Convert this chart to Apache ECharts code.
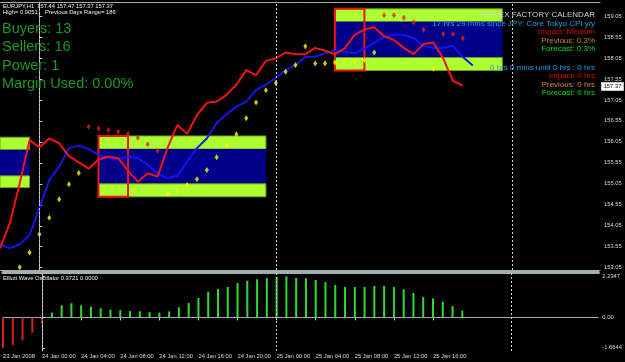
<!DOCTYPE html>
<html><head><meta charset="utf-8">
<script src="https://cdn.jsdelivr.net/npm/echarts@6/dist/echarts.min.js"></script>
<style>html,body{margin:0;padding:0;background:#000;}#c{width:625px;height:362px;}</style>
</head><body><div id="c"></div>
<script>
// ---------- data (hours counted from 24 Jan 00:00) ----------
const firstHour = -4;
const closeLine = [153.51,154.11,155.06,156.09,155.92,156.13,156.02,155.71,155.56,155.41,155.63,155.70,155.66,155.36,155.10,155.30,155.22,155.90,156.45,156.24,156.69,156.98,157.01,157.17,157.41,157.76,157.64,157.98,158.04,158.18,158.14,158.14,158.29,158.22,158.14,158.28,158.60,158.73,158.78,158.57,158.48,158.29,158.14,158.38,158.42,158.04,157.50,157.39];
const maLine = [153.61,153.51,153.61,153.83,154.47,155.14,155.46,155.90,155.96,155.88,155.74,155.66,155.63,155.70,155.66,155.50,155.30,155.18,155.24,155.58,155.90,156.13,156.50,156.71,156.89,157.01,157.29,157.41,157.57,157.76,157.88,158.07,158.08,158.16,158.22,158.20,158.16,158.28,158.41,158.54,158.61,158.60,158.52,158.34,158.29,158.29,158.34,158.07,157.87];
const sarBelow = [null,null,153.06,153.41,153.85,154.24,154.68,155.04,155.31,null,null,null,null,null,null,null,null,154.82,154.86,155.02,155.16,155.38,155.68,155.96,156.23,156.61,156.99,157.28,157.45,157.72,157.88,158.33,157.92,157.92,157.94,157.95,157.98,158.00,158.18,null,null,null,null,null,157.79,null,null,null];
const sarAbove = [null,null,null,null,null,null,null,null,null,156.41,156.37,156.33,156.29,156.24,156.15,155.99,155.84,null,null,null,null,null,null,null,null,null,null,null,null,null,null,null,null,null,null,null,null,null,null,159.07,159.07,159.01,158.90,158.72,null,158.62,158.62,158.52];
const ewo = [-1.6644,-1.51,-1.25,-0.84,-0.32,0.26,0.66,0.77,0.66,0.58,0.50,0.42,0.40,0.35,0.33,0.29,0.26,0.33,0.55,0.79,1.06,1.40,1.55,1.66,1.88,2.00,2.08,2.14,2.21,2.2347,2.15,2.14,2.04,1.93,1.77,1.66,1.66,1.66,1.71,1.71,1.66,1.53,1.33,1.11,1.04,0.86,0.62,0.3721];
// zone boxes
const boxStart = [-4, 6, 30];
const boxEnd = [-1, 23, 47];
const boxTop = [156.16, 156.19, 159.22];
const boxInnerTop = [155.86, 155.88, 158.91];
const boxInnerBottom = [155.24, 155.05, 158.06];
const boxBottom = [154.96, 154.74, 157.75];
const rectStart = [6, 30];
const rectEnd = [9, 33];
// ticks
const priceTicks = [153.05,153.55,154.05,154.55,155.05,155.55,156.05,156.55,157.05,157.55,158.05,158.55,159.05];
const ewoTicks = [-1.6644, 0, 2.2347];
const ewoTickLabels = ['-1.6644', '0.00', '2.2347'];
const timeTicks = [-4,0,4,8,12,16,20,24,28,32,36,40];
const timeLabels = ['23 Jan 2008','24 Jan 00:00','24 Jan 04:00','24 Jan 08:00','24 Jan 12:00','24 Jan 16:00','24 Jan 20:00','25 Jan 00:00','25 Jan 04:00','25 Jan 08:00','25 Jan 12:00','25 Jan 16:00'];
const dayStarts = [0, 24, 48];
const lastPrice = 157.37;

// ---------- build ----------
const FONT = 'Liberation Sans, Arial, sans-serif';
const AXC = '#9fb0b0';
const pairs = (arr) => arr.map((v, i) => [firstHour + i, v]).filter(p => p[1] !== null);

const lime = { color: '#adff2f', borderColor: '#6f9e1c', borderWidth: 1 };
const navy = { color: '#00008b' };
const boxAreas = [];
boxStart.forEach((s, i) => {
  boxAreas.push([{ xAxis: s, yAxis: boxTop[i], itemStyle: lime }, { xAxis: boxEnd[i], yAxis: boxInnerTop[i] }]);
  boxAreas.push([{ xAxis: s, yAxis: boxInnerTop[i], itemStyle: navy }, { xAxis: boxEnd[i], yAxis: boxInnerBottom[i] }]);
  boxAreas.push([{ xAxis: s, yAxis: boxInnerBottom[i], itemStyle: lime }, { xAxis: boxEnd[i], yAxis: boxBottom[i] }]);
});
const rectAreas = rectStart.map((s, i) => [
  { xAxis: s, yAxis: boxTop[i + 1], itemStyle: { color: 'rgba(0,0,0,0)', borderColor: '#ee1111', borderWidth: 2 } },
  { xAxis: rectEnd[i], yAxis: boxBottom[i + 1] }
]);
const sepLine = {
  silent: true, symbol: 'none', label: { show: false },
  lineStyle: { color: '#d0d0d0', type: [2, 2], width: 1 },
  data: dayStarts.map(d => ({ xAxis: d }))
};

const txt = (text, x, y, color, size, align) => ({
  type: 'text', z: 100,
  style: { text, x, y, fill: color, fontSize: size, fontFamily: FONT, align: align || 'left', verticalAlign: 'middle' }
});
const cal = [
  ['FOREX FACTORY CALENDAR', 14.3, '#d0d0d0'],
  ['17 hrs 29 mins since JPY: Core Tokyo CPI y/y', 23.3, '#1e9fe8'],
  ['Impact: Medium', 31.7, '#e00000'],
  ['Previous: 0.3%', 40.3, '#cd853f'],
  ['Forecast: 0.3%', 49, '#00e000'],
  ['0 hrs 0 mins until 0 hrs : 0 hrs', 67.3, '#1e9fe8'],
  ['Impact: 0 hrs', 76, '#e00000'],
  ['Previous: 0 hrs', 84.3, '#cd853f'],
  ['Forecast: 0 hrs', 93, '#00e000']
];
const stats = [['Buyers: 13', 28.8], ['Sellers: 16', 47.3], ['Power: 1', 65.5], ['Margin Used: 0.00%', 84]];

const graphics = [
  txt('EURJPY,H1', 3, 6, '#f0f0f0', 5.8),
  txt('157.44 157.47 157.37 157.37', 37.3, 6, '#f0f0f0', 5.8),
  txt('High= 0.9051', 3, 12.7, '#f0f0f0', 5.8),
  txt('Previous Days Range= 186', 45, 12.7, '#f0f0f0', 5.8),
  txt('Elliott Wave Oscillator 0.3721 0.0000', 3, 278.5, '#f0f0f0', 5.8)
];
stats.forEach(s => graphics.push(txt(s[0], 2, s[1], '#1a9a1a', 14.5)));
cal.forEach(c => graphics.push(txt(c[0], 595, c[1], c[2], 8, 'right')));

const xMin = -4, xMax = 56.92;
const option = {
  backgroundColor: '#000',
  animation: false,
  grid: [
    { left: 0, width: 600, top: 2, height: 268 },
    { left: 0, width: 600, top: 272, height: 79 }
  ],
  xAxis: [
    { gridIndex: 0, type: 'value', min: xMin, max: xMax, position: 'bottom', axisLine: { show: true, lineStyle: { color: AXC, width: 1 } }, axisTick: { show: false }, axisLabel: { show: false }, splitLine: { show: false } },
    { gridIndex: 1, type: 'value', min: xMin, max: xMax, position: 'bottom',
      axisLine: { show: true, lineStyle: { color: AXC, width: 1 } },
      axisTick: { show: true, customValues: timeTicks, length: 3, lineStyle: { color: '#c8c8c8' } },
      axisLabel: { show: true, customValues: timeTicks, align: 'left', margin: 2, fontSize: 5.8, fontFamily: FONT, color: '#d8d8d8',
        formatter: v => { const i = timeTicks.indexOf(v); return i >= 0 ? timeLabels[i] : ''; } },
      splitLine: { show: false } },
    { gridIndex: 0, type: 'value', min: xMin, max: xMax, position: 'top', axisLine: { show: true, lineStyle: { color: AXC, width: 1 } }, axisTick: { show: false }, axisLabel: { show: false }, splitLine: { show: false } },
    { gridIndex: 1, type: 'value', min: xMin, max: xMax, position: 'top', axisLine: { show: true, lineStyle: { color: AXC, width: 3 } }, axisTick: { show: false }, axisLabel: { show: false }, splitLine: { show: false } }
  ],
  yAxis: [
    { gridIndex: 0, type: 'value', position: 'right', min: 152.9952, max: 159.3837,
      axisLine: { show: true, lineStyle: { color: AXC } },
      axisTick: { show: true, customValues: priceTicks, length: 3, lineStyle: { color: '#c8c8c8' } },
      axisLabel: { show: true, customValues: priceTicks, margin: 4, fontSize: 5.8, fontFamily: FONT, color: '#d8d8d8', formatter: v => v.toFixed(2) },
      splitLine: { show: false } },
    { gridIndex: 1, type: 'value', position: 'right', min: -1.835, max: 2.4795,
      axisLine: { show: true, lineStyle: { color: AXC } },
      axisTick: { show: true, customValues: ewoTicks, length: 3, lineStyle: { color: '#c8c8c8' } },
      axisLabel: { show: true, customValues: ewoTicks, margin: 4, fontSize: 5.8, fontFamily: FONT, color: '#d8d8d8',
        formatter: v => { const i = ewoTicks.indexOf(v); return i >= 0 ? ewoTickLabels[i] : ''; } },
      splitLine: { show: false } }
  ],
  graphic: graphics,
  series: [
    { type: 'line', xAxisIndex: 0, yAxisIndex: 0, data: [], z: 1, silent: true,
      markArea: { silent: true, data: boxAreas }, markLine: sepLine },
    { type: 'line', name: 'ma', xAxisIndex: 0, yAxisIndex: 0, data: pairs(maLine), z: 3, symbol: 'none',
      lineStyle: { color: '#1414f0', width: 2 } },
    { type: 'line', name: 'close', xAxisIndex: 0, yAxisIndex: 0, data: pairs(closeLine), z: 3, symbol: 'none',
      lineStyle: { color: '#f01414', width: 2 } },
    { type: 'scatter', name: 'sarBelow', xAxisIndex: 0, yAxisIndex: 0, data: pairs(sarBelow), z: 4,
      symbol: 'diamond', symbolSize: [4, 6], itemStyle: { color: '#ffff00' } },
    { type: 'scatter', name: 'sarAbove', xAxisIndex: 0, yAxisIndex: 0, data: pairs(sarAbove), z: 4,
      symbol: 'diamond', symbolSize: [4, 6], itemStyle: { color: '#e81c1c' } },
    { type: 'line', xAxisIndex: 0, yAxisIndex: 0, data: [], z: 5, silent: true,
      markArea: { silent: true, data: rectAreas } },
    { type: 'bar', name: 'ewo', xAxisIndex: 1, yAxisIndex: 1, data: pairs(ewo), barWidth: 2, z: 3,
      itemStyle: { color: p => p.value[1] >= 0 ? '#30dc30' : '#d42020' },
      markLine: sepLine }
  ]
};
const chart = echarts.init(document.getElementById('c'), null, { renderer: 'canvas' });
chart.setOption(option);
// current price marker on the right price scale (position from the axis scale)
const py = chart.convertToPixel({ yAxisIndex: 0 }, lastPrice);
chart.setOption({ graphic: graphics.concat([
  { type: 'rect', z: 110, shape: { x: 601.5, y: py - 4, width: 22, height: 8 }, style: { fill: '#ffffff', stroke: '#c8c8c8', lineWidth: 1 } },
  { type: 'text', z: 111, style: { text: lastPrice.toFixed(2), x: 612.5, y: py, fill: '#000000', fontSize: 5.8, fontFamily: FONT, align: 'center', verticalAlign: 'middle' } }
]) });
</script>
</body></html>
